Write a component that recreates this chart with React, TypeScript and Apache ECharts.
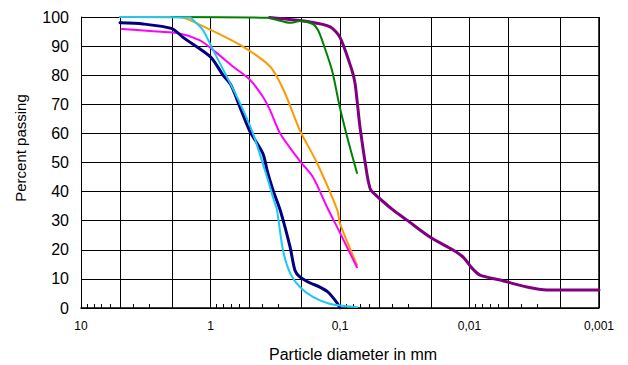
import React, { useEffect, useRef } from 'react';
import * as echarts from 'echarts';

// Particle diameter (mm) / percent passing
const navyCurve: [number, number][] = [
  [5, 98], [3.32, 97.6], [1.98, 96], [1.63, 93], [1.0, 86.3], [0.8, 80], [0.695, 76.6],
  [0.592, 69], [0.5, 61], [0.393, 53], [0.366, 47.4], [0.329, 40.5], [0.29, 33.7],
  [0.243, 21], [0.223, 13], [0.204, 10.7], [0.17, 8.6], [0.143, 7.2], [0.124, 5.5],
  [0.105, 1.7], [0.1, 0],
];
const magentaCurve: [number, number][] = [
  [4.83, 95.9], [2.93, 95.2], [1.81, 94.5], [1.205, 92], [0.957, 88.7], [0.67, 83],
  [0.495, 78.4], [0.393, 72.5], [0.347, 68], [0.29, 60], [0.204, 50.5], [0.162, 45],
  [0.126, 34.7], [0.1, 25.8], [0.074, 14],
];
const orangeCurve: [number, number][] = [
  [5, 100], [1.72, 100], [1.205, 97.3], [0.592, 90.4], [0.347, 83], [0.27, 74.5],
  [0.204, 61], [0.151, 50], [0.105, 33.7], [0.1, 29], [0.074, 14.8],
];
const greenCurve: [number, number][] = [
  [2, 100], [0.366, 99.7], [0.243, 98], [0.204, 98.6], [0.162, 97.6], [0.148, 95.5],
  [0.135, 91], [0.115, 81.5], [0.1, 68.7], [0.0868, 57.7], [0.0739, 46.4],
];
const purpleCurve: [number, number][] = [
  [0.35, 99.8], [0.17, 98.3], [0.119, 96.6], [0.1, 93], [0.081, 81.8], [0.0766, 77.3],
  [0.0739, 71.5], [0.0701, 62.2], [0.0619, 46], [0.0587, 41.2], [0.0566, 40],
  [0.0509, 38.1], [0.039, 33.7], [0.0304, 30.2], [0.0202, 24.4], [0.0134, 19.9],
  [0.0112, 17.5], [0.00957, 13.7], [0.0083, 11.3], [0.00581, 9.6], [0.0036, 7.2],
  [0.00252, 6.2], [0.001, 6.2],
];
const cyanCurve: [number, number][] = [
  [5, 100], [1.44, 99.8], [1.365, 99], [1.143, 95.5], [0.957, 88.7], [0.746, 79.4],
  [0.592, 70.4], [0.47, 60], [0.366, 45], [0.329, 38], [0.307, 33.7], [0.276, 20],
  [0.243, 12], [0.204, 7.2], [0.162, 3.8], [0.119, 1.4], [0.074, 0.3],
];

const xTickLabels: Record<number, string> = { 1: '10', 0: '1', [-1]: '0,1', [-2]: '0,01', [-3]: '0,001' };
const extraGridDiameters = [5, 2, 0.5, 0.2, 0.05, 0.02, 0.005, 0.002];
const minorTickDiameters = [
  9, 8, 7, 6, 4, 3,
  0.9, 0.8, 0.7, 0.6, 0.4, 0.3,
  0.09, 0.08, 0.07, 0.06, 0.04, 0.03,
  0.009, 0.008, 0.007, 0.006, 0.004, 0.003,
];
const xTitle = 'Particle diameter in mm';
const yTitle = 'Percent passing';

const FONT = '"Liberation Sans", Arial, sans-serif';

export default function App() {
  const ref = useRef<HTMLDivElement>(null);
  useEffect(() => {
    if (!ref.current) return;
    const chart = echarts.init(ref.current, null, { renderer: 'svg' });
    const lineSeries = (name: string, data: [number, number][], color: string, width: number) => ({
      type: 'line',
      name,
      data,
      showSymbol: false,
      symbol: 'none',
      smooth: 0.25,
      lineStyle: { color, width, cap: 'round', join: 'round' },
      z: 5,
    });
    chart.setOption({
      animation: false,
      backgroundColor: '#fff',
      textStyle: { fontFamily: FONT },
      grid: { left: 81, right: 29, top: 17, bottom: 57, containLabel: false },
      graphic: [
        {
          type: 'text',
          x: 20,
          y: 148,
          rotation: Math.PI / 2,
          style: {
            text: yTitle,
            fontSize: 15,
            fontFamily: FONT,
            fill: '#000',
            align: 'center',
            verticalAlign: 'middle',
          },
        },
        {
          type: 'text',
          x: 353,
          y: 354,
          style: {
            text: xTitle,
            fontSize: 16,
            fontFamily: FONT,
            fill: '#000',
            align: 'center',
            verticalAlign: 'middle',
          },
        },
      ],
      xAxis: {
        type: 'log',
        logBase: 10,
        min: 0.001,
        max: 10,
        inverse: true,
        axisLine: { show: true, onZero: false, lineStyle: { color: '#000', width: 1.5 } },
        axisTick: { show: false },
        axisLabel: {
          fontSize: 12,
          color: '#000',
          margin: 12,
          fontFamily: FONT,
          formatter: (v: number) => xTickLabels[Math.round(Math.log10(v))] ?? '',
        },
        splitLine: { show: true, lineStyle: { color: '#000', width: 1 } },
      },
      yAxis: {
        type: 'value',
        min: 0,
        max: 100,
        interval: 10,
        axisLine: { show: true, lineStyle: { color: '#000', width: 1 } },
        axisTick: { show: false },
        axisLabel: { fontSize: 16, color: '#000', margin: 12, fontFamily: FONT },
        splitLine: { show: true, lineStyle: { color: '#000', width: 1 } },
      },
      series: [
        {
          type: 'custom',
          name: 'grid',
          silent: true,
          z: 1,
          data: extraGridDiameters.map((d) => [d, 0]),
          renderItem: (params: any, api: any) => {
            const b = api.coord([api.value(0), 0]);
            const t = api.coord([api.value(0), 100]);
            return {
              type: 'line',
              shape: { x1: Math.round(b[0]) + 0.5, y1: b[1], x2: Math.round(b[0]) + 0.5, y2: t[1] },
              style: { stroke: '#000', lineWidth: 1 },
            };
          },
        },
        {
          type: 'custom',
          name: 'minorTicks',
          silent: true,
          z: 1,
          data: minorTickDiameters.map((d) => [d, 0]),
          renderItem: (params: any, api: any) => {
            const b = api.coord([api.value(0), 0]);
            return {
              type: 'line',
              shape: { x1: Math.round(b[0]) + 0.5, y1: b[1], x2: Math.round(b[0]) + 0.5, y2: b[1] - 4 },
              style: { stroke: '#000', lineWidth: 1 },
            };
          },
        },
        {
          type: 'custom',
          name: 'frame',
          silent: true,
          z: 1,
          data: [[0.001, 0]],
          renderItem: (params: any, api: any) => {
            const b = api.coord([api.value(0), 0]);
            const t = api.coord([api.value(0), 100]);
            return {
              type: 'line',
              shape: { x1: b[0], y1: b[1], x2: t[0], y2: t[1] },
              style: { stroke: '#000', lineWidth: 1.5 },
            };
          },
        },
        lineSeries('Sample A', orangeCurve, '#ff9900', 2),
        lineSeries('Sample B', magentaCurve, '#ff00ff', 2),
        lineSeries('Sample C', navyCurve, '#000080', 3),
        lineSeries('Sample D', purpleCurve, '#800080', 3),
        lineSeries('Sample E', greenCurve, '#008000', 2),
        lineSeries('Sample F', cyanCurve, '#1ec8f5', 2),
      ],
    });
    return () => chart.dispose();
  }, []);
  return (
    <div
      ref={ref}
      style={{ position: 'fixed', left: 0, top: 0, width: 628, height: 365, background: '#fff' }}
    />
  );
}
